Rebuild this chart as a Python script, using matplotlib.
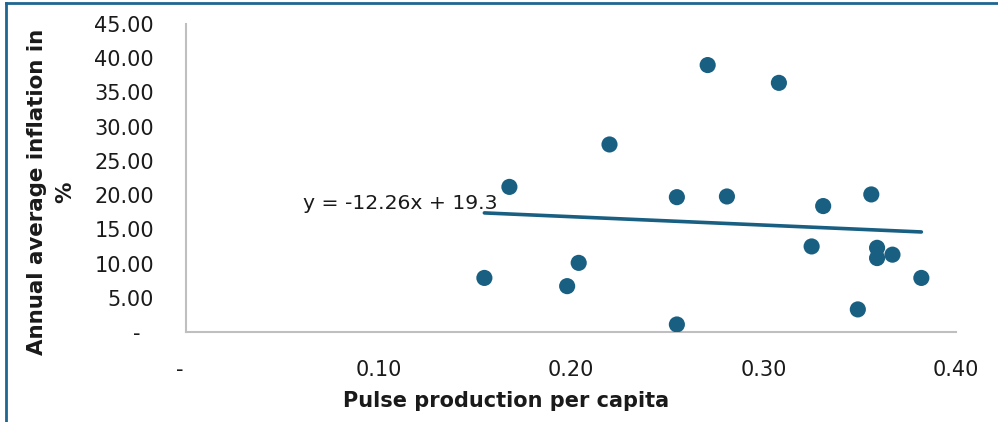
import matplotlib
matplotlib.use("Agg")
import matplotlib.pyplot as plt
from matplotlib.lines import Line2D
from matplotlib.ticker import FixedLocator, FuncFormatter

# Pulse production per capita vs. annual average inflation (%)
pulse_per_capita = [0.155, 0.168, 0.198, 0.204, 0.220, 0.255, 0.255, 0.271, 0.281,
                    0.308, 0.325, 0.331, 0.349, 0.356, 0.359, 0.359, 0.367, 0.382]
inflation_pct = [7.9, 21.2, 6.7, 10.1, 27.4, 19.7, 1.1, 39.0, 19.8,
                 36.4, 12.5, 18.4, 3.3, 20.1, 12.3, 10.8, 11.3, 7.9]

# Linear trendline as stated in its label
slope = -12.26
intercept = 19.3

x_ticks = [0.0, 0.1, 0.2, 0.3, 0.4]
y_ticks = [0, 5, 10, 15, 20, 25, 30, 35, 40, 45]

point_color = "#195F82"
spine_color = "#BFBFBF"
frame_color = "#1F6690"
text_color = "#1a1a1a"
font = "DejaVu Sans"

fig = plt.figure(figsize=(9.98, 4.22), dpi=100)
ax = fig.add_axes([186 / 998, 1 - 332 / 422, (956 - 186) / 998, (332 - 24) / 422])

ax.scatter(pulse_per_capita, inflation_pct, s=135, color=point_color,
           edgecolors="none", zorder=3)

x_lo, x_hi = min(pulse_per_capita), max(pulse_per_capita)
y_lo, y_hi = slope * x_lo + intercept, slope * x_hi + intercept
ax.plot([x_lo, x_hi], [y_lo, y_hi], color=point_color, lw=2.6,
        solid_capstyle="round", zorder=2)

ax.annotate(f"y = {slope:.2f}x + {intercept:g}", xy=(x_lo, y_lo),
            xytext=(13, 4), textcoords="offset pixels", ha="right",
            va="baseline", fontsize=14.7, family=font, color=text_color)

ax.set_xlim(0, 0.4)
ax.set_ylim(0, 45)
ax.xaxis.set_major_locator(FixedLocator(x_ticks))
ax.yaxis.set_major_locator(FixedLocator(y_ticks))
ax.xaxis.set_major_formatter(FuncFormatter(lambda v, p: "-  " if abs(v) < 1e-9 else f"{v:.2f}"))
ax.yaxis.set_major_formatter(FuncFormatter(lambda v, p: "-  " if abs(v) < 1e-9 else f"{v:.2f}"))
ax.tick_params(axis="both", length=0, labelsize=15, colors=text_color)
ax.tick_params(axis="x", pad=20)
ax.tick_params(axis="y", pad=23)
for lbl in ax.get_xticklabels() + ax.get_yticklabels():
    lbl.set_family(font)

for side in ("top", "right"):
    ax.spines[side].set_visible(False)
for side in ("left", "bottom"):
    ax.spines[side].set_color(spine_color)
    ax.spines[side].set_linewidth(1.5)

fig.text(506 / 998, 1 - 407 / 422, "Pulse production per capita", ha="center",
         va="baseline", fontsize=15, fontweight="bold", family=font,
         color=text_color)
fig.text(51 / 998, 1 - 192 / 422, "Annual average inflation in\n%", ha="center",
         va="center", rotation=90, fontsize=15.4, fontweight="bold",
         family=font, color=text_color, linespacing=1.55)

# Outer frame along the top and left edges
fig.add_artist(Line2D([5.5 / 998, 5.5 / 998], [0, 1 - 2.5 / 422],
                      transform=fig.transFigure, color=frame_color, lw=2))
fig.add_artist(Line2D([5.5 / 998, 1], [1 - 2.5 / 422, 1 - 2.5 / 422],
                      transform=fig.transFigure, color=frame_color, lw=2))

fig.savefig("out.png", dpi=100)
